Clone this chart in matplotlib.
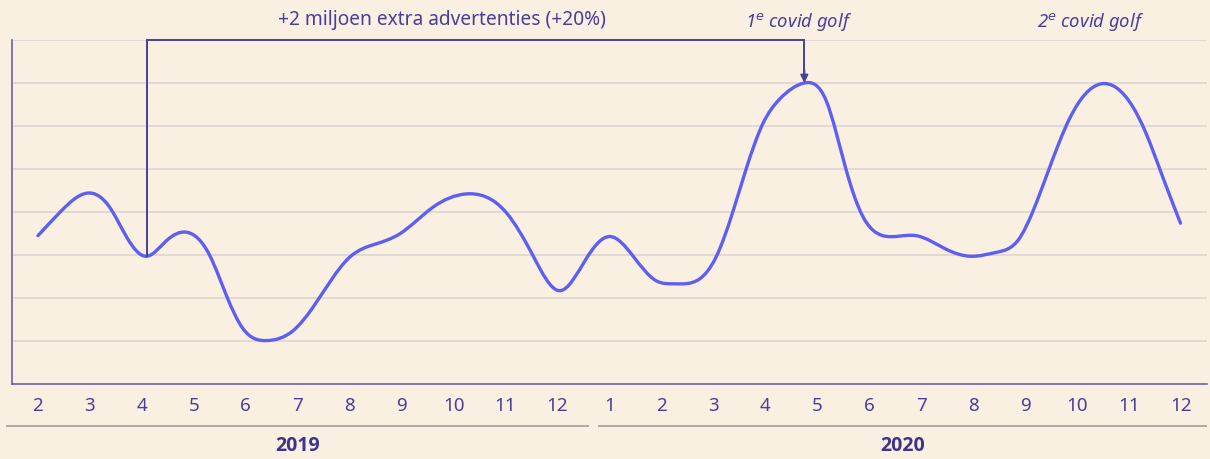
import numpy as np
import matplotlib
matplotlib.use("Agg")
import matplotlib.pyplot as plt
from matplotlib.path import Path
from matplotlib.patches import PathPatch
import matplotlib.transforms as mtransforms

# ---------------- data ----------------
tick_labels = ["2", "3", "4", "5", "6", "7", "8", "9", "10", "11", "12",
               "1", "2", "3", "4", "5", "6", "7", "8", "9", "10", "11", "12"]
years = ["2019", "2020"]
year_spans = [(0, 10), (11, 22)]  # tick index ranges per year

# position along the month axis (0 = feb 2019) and relative volume
x_pos = [0.00, 0.42, 0.95, 1.38, 1.71, 2.09, 2.47, 2.86, 3.31, 3.63, 3.95,
         4.40, 4.91, 5.29, 6.00, 6.51, 6.96, 7.60, 8.24, 9.01, 9.53, 10.04,
         10.55, 11.00, 11.45, 11.90, 12.25, 12.73, 13.05, 13.37, 13.63, 13.95,
         14.27, 14.75, 15.17, 15.55, 15.87, 16.26, 16.90, 17.47, 17.96, 18.44,
         18.88, 19.14, 19.46, 19.85, 20.46, 21.06, 21.32, 21.64, 21.99]
volume = [3.45, 3.99, 4.44, 4.11, 3.41, 2.97, 3.33, 3.53, 2.98, 2.05, 1.28,
          1.01, 1.24, 1.78, 2.95, 3.26, 3.49, 4.11, 4.42, 3.99, 2.98, 2.17,
          2.91, 3.43, 2.98, 2.40, 2.33, 2.44, 2.95, 3.99, 5.00, 6.05,
          6.62, 7.00, 6.59, 5.00, 3.91, 3.45, 3.45, 3.14, 2.97, 3.06,
          3.37, 3.99, 5.00, 6.16, 6.98, 6.47, 5.85, 4.84, 3.74]

annotation_text = "+2 miljoen extra advertenties (+20%)"
wave_labels = [r"1$^{e}$ covid golf", r"2$^{e}$ covid golf"]
wave_label_x = [14.65, 20.27]
annotation_text_x = 7.77
ann_start_idx = 5  # April 2019 point

# ---------------- style ----------------
BG = "#F9F0E2"
LINE = "#5D5FF2"
PURPLE = "#4A3F98"
DARK = "#3D338A"
GRID = "#DAD4D0"
SPINE = "#6C62AE"

plt.rcParams['font.family'] = ['Noto Sans', 'DejaVu Sans']

fig = plt.figure(figsize=(12.1, 4.6), dpi=100, facecolor=BG)
ax = fig.add_axes([12 / 1210, (460 - 385) / 460, 1195 / 1210, 344 / 460])
ax.set_facecolor(BG)

x = np.asarray(x_pos, float)
y = np.asarray(volume, float)

# natural cubic spline through the points, drawn as Bezier segments
n = len(x)
h = np.diff(x)
A = np.zeros((n, n))
r = np.zeros(n)
A[0, 0] = A[-1, -1] = 1.0
for i in range(1, n - 1):
    A[i, i - 1] = h[i - 1]
    A[i, i] = 2 * (h[i - 1] + h[i])
    A[i, i + 1] = h[i]
    r[i] = 6 * ((y[i + 1] - y[i]) / h[i] - (y[i] - y[i - 1]) / h[i - 1])
M = np.linalg.solve(A, r)
m = np.zeros(n)
for i in range(n - 1):
    m[i] = (y[i + 1] - y[i]) / h[i] - h[i] * (2 * M[i] + M[i + 1]) / 6
m[-1] = (y[-1] - y[-2]) / h[-1] + h[-1] * (M[-2] + 2 * M[-1]) / 6

verts = [(x[0], y[0])]
codes = [Path.MOVETO]
for i in range(n - 1):
    verts += [(x[i] + h[i] / 3, y[i] + m[i] * h[i] / 3),
              (x[i + 1] - h[i] / 3, y[i + 1] - m[i + 1] * h[i] / 3),
              (x[i + 1], y[i + 1])]
    codes += [Path.CURVE4] * 3
ax.add_patch(PathPatch(Path(verts, codes), fill=False, edgecolor=LINE,
                       lw=2.4, capstyle='round', joinstyle='round', zorder=3))

ax.set_xlim(-0.5, len(tick_labels) - 0.5)
ax.set_ylim(0, 8)
ax.set_yticks(range(1, 9))
ax.set_yticklabels([])
ax.tick_params(axis='y', length=0)
ax.grid(axis='y', color=GRID, lw=1.1, zorder=0)
ax.set_xticks(range(len(tick_labels)))
ax.set_xticklabels(tick_labels, color=PURPLE, fontsize=13.5)
ax.tick_params(axis='x', length=0, pad=9)
for s in ['top', 'right']:
    ax.spines[s].set_visible(False)
for s in ['left', 'bottom']:
    ax.spines[s].set_color(SPINE)
    ax.spines[s].set_linewidth(1.2)

# annotation bracket
peak_idx = int(np.argmax(y[:40]))
top = ax.get_ylim()[1]
xs, ys = x[ann_start_idx], y[ann_start_idx]
xp, yp = x[peak_idx], y[peak_idx]
ax.plot([xs, xs, xp, xp], [ys, top, top, yp + 0.22], color=PURPLE, lw=1.4,
        zorder=4, clip_on=False, solid_joinstyle='miter')
ax.annotate("", xy=(xp, yp), xytext=(xp, yp + 0.3),
            arrowprops=dict(arrowstyle='-|>,head_length=0.45,head_width=0.22',
                            color=PURPLE, lw=1.4, shrinkA=0, shrinkB=0),
            zorder=5)

trans = mtransforms.blended_transform_factory(ax.transData, ax.transAxes)
ax.text(annotation_text_x, 1.061, annotation_text, transform=trans,
        ha='center', va='center', color=PURPLE, fontsize=13.8)
for lbl, lx in zip(wave_labels, wave_label_x):
    ax.text(lx, 1.055, lbl, transform=trans, ha='center', va='center',
            color=PURPLE, fontsize=13.3, style='italic')

# year brackets under the axis
pads = [(-0.6, 0.58), (-0.21, 0.48)]
for yr, (a, b), (pl, pr) in zip(years, year_spans, pads):
    x0 = a + pl
    x1 = b + pr
    ax.plot([x0, x1], [-0.123, -0.123], transform=trans, color="#ABA8A6",
            lw=1.4, clip_on=False)
    ax.text((x0 + x1) / 2, -0.176, yr, transform=trans, ha='center',
            va='center', color=DARK, fontsize=14, fontweight='bold',
            family=['Open Sans', 'DejaVu Sans'])

fig.savefig("out.png", dpi=100, facecolor=BG)
